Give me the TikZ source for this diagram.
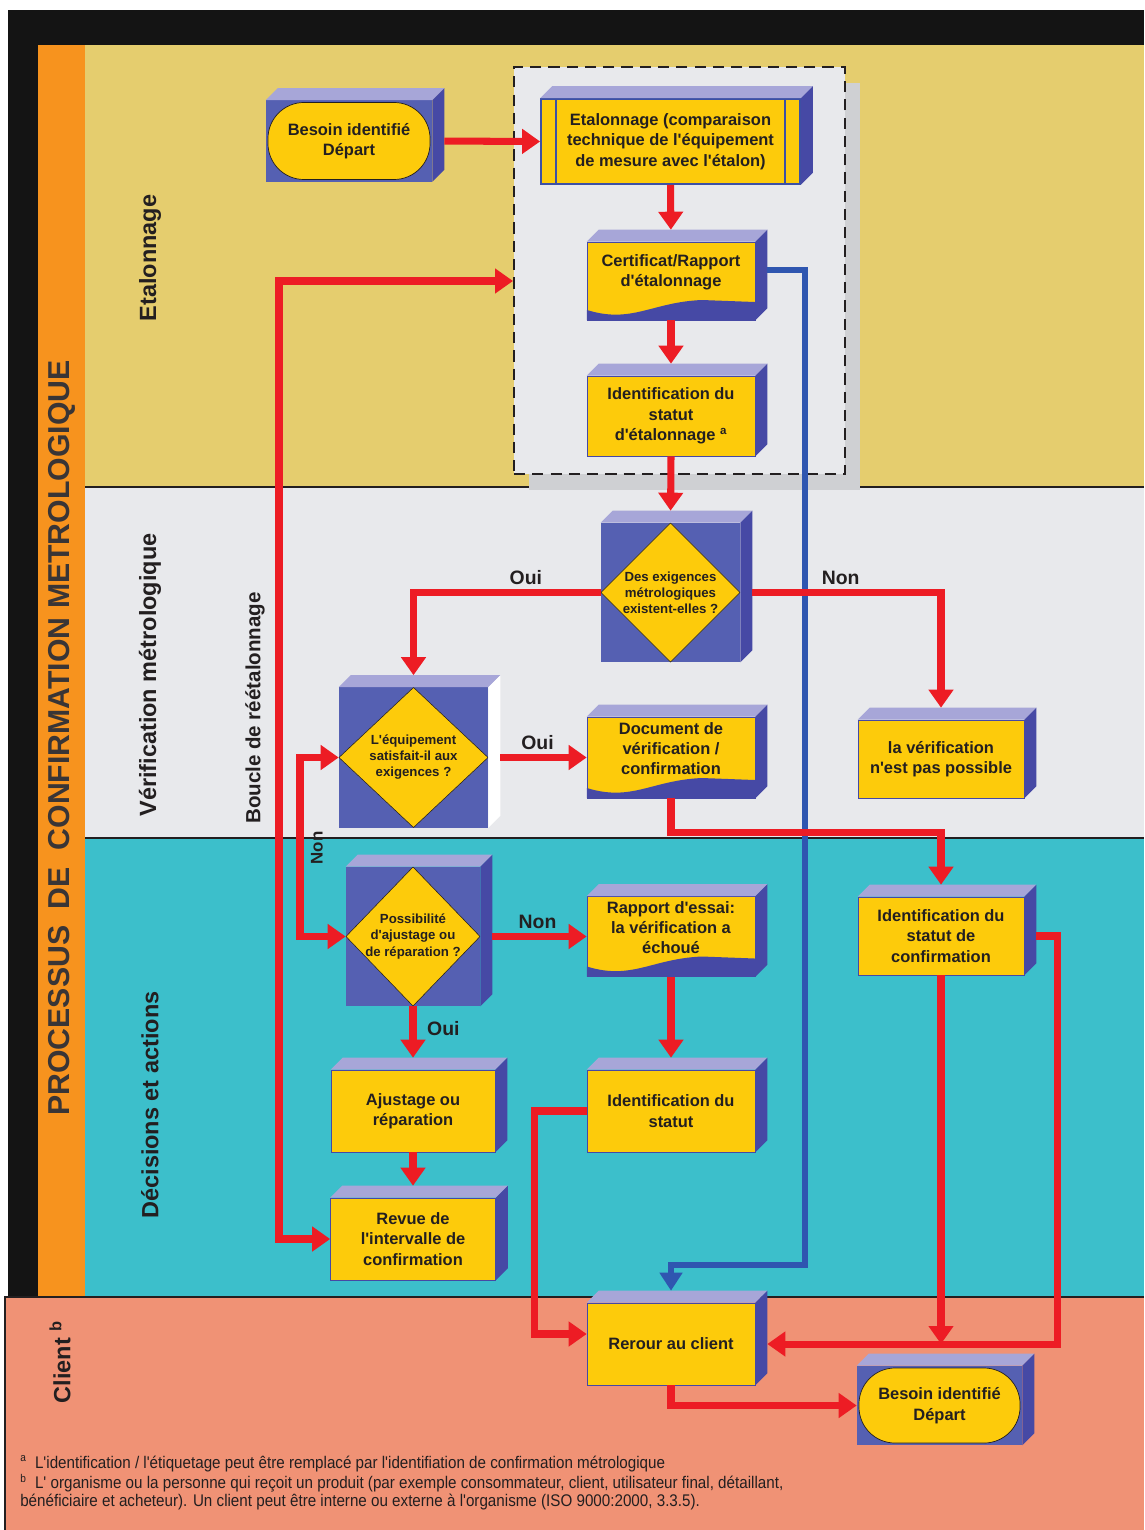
\documentclass[tikz,border=0pt]{standalone}
\usepackage{fontspec}
\setmainfont{Liberation Sans}[Ligatures=TeXOff]
\newfontfamily\narrowfont{Liberation Sans}[FakeStretch=0.9, Ligatures=TeXOff]
\usetikzlibrary{arrows.meta,calc,shadows}

\definecolor{bandetal}{RGB}{229,205,110}
\definecolor{bandverif}{RGB}{232,233,236}
\definecolor{banddec}{RGB}{60,191,203}
\definecolor{bandclient}{RGB}{240,146,117}
\definecolor{orangeband}{RGB}{247,147,30}
\definecolor{boxyellow}{RGB}{253,203,11}
\definecolor{boxtop}{RGB}{167,166,216}
\definecolor{boxside}{RGB}{70,73,165}
\definecolor{boxedge}{RGB}{60,80,165}
\definecolor{decblue}{RGB}{85,96,178}
\definecolor{flowred}{RGB}{237,28,36}
\definecolor{flowblue}{RGB}{47,86,176}
\definecolor{calshadow}{RGB}{207,208,211}
\definecolor{txt}{RGB}{35,31,32}

\newcommand\boxfont{\bfseries\fontsize{11.7}{14.5}\selectfont}
\newcommand\decfont{\bfseries\fontsize{9.4}{11.4}\selectfont}
\newcommand\lblfont{\bfseries\fontsize{13.8}{16}\selectfont}

\begin{document}
\begin{tikzpicture}
      [%%%%%%%%%%%%%%%%%%%%%%%%%%%%%%
      x=0.025cm, y=-0.025cm,
      cube/.style={rectangle, fill=boxyellow, draw=boxside, line width=0.4pt, text=txt, font=\boxfont, align=center, inner sep=0pt},
      start/.style={cube, fill=decblue, draw=none, path picture={\draw[fill=boxyellow, draw=txt, line width=0.5pt, rounded corners=0.9cm] ($(path picture bounding box.south west)+(2,-2)$) rectangle ($(path picture bounding box.north east)+(-2,2)$);}},
      process/.style={cube, draw=boxedge, line width=1.2pt, path picture={\draw[boxedge, line width=1.2pt] ($(path picture bounding box.north west)+(15,0)$) -- ($(path picture bounding box.south west)+(15,0)$) ($(path picture bounding box.north east)+(-15,0)$) -- ($(path picture bounding box.south east)+(-15,0)$);}},
      doc/.style={cube, path picture={\fill[boxside] (path picture bounding box.south west) -- ++(0,-10) .. controls +(45,14) and +(-50,2) .. ++(115,-10) -- ++(53,2) -- (path picture bounding box.south east) -- cycle;}},
      doctext/.style={text=txt, font=\boxfont, align=center, yshift=0.22cm},
      decision/.style={rectangle, fill=decblue, text=txt, font=\decfont, align=center, inner sep=0pt, path picture={\draw[fill=boxyellow, draw=txt, line width=0.4pt] (path picture bounding box.north) -- (path picture bounding box.east) -- (path picture bounding box.south) -- (path picture bounding box.west) -- cycle;}},
      calbox/.style={rectangle, fill=bandverif, draw=txt, line width=1.3pt, dash pattern=on 8pt off 5pt, minimum width=8.275cm, minimum height=10.175cm, drop shadow={shadow xshift=0.375cm, shadow yshift=-0.4cm, fill=calshadow, opacity=1}},
      lane/.style={text=txt, font=\bfseries\fontsize{16.7}{19}\selectfont, rotate=90},
      lbl/.style={text=txt, font=\lblfont},
      note/.style={text=txt, font=\narrowfont\fontsize{12}{12.5}\selectfont, align=left, inner sep=0pt},
      flow/.style={draw=flowred, line width=5pt, -{Triangle[length=0.45cm, width=0.6cm]}},
      flowboth/.style={flow, {Triangle[length=0.45cm, width=0.6cm]}-{Triangle[length=0.45cm, width=0.6cm]}},
      blueflow/.style={draw=flowblue, line width=4.3pt, -{Triangle[length=0.45cm, width=0.55cm]}},
      fromside/.style={shorten <=0.3cm},
      totop/.style={shorten >=0.3cm},
      ]%%%%%%%%%%%%%%%%%%%%%%%%%%%%%%

      \useasboundingbox (0,0) rectangle (1144,1530);
      % lanes
      \fill[white] (0,0) rectangle (1144,1530);
      \fill[black!92] (8,10) rectangle (1144,1297);
      \fill[orangeband] (38,45) rectangle (85,1297);
      \fill[bandetal] (85,45) rectangle (1144,487);
      \fill[bandverif] (85,487) rectangle (1144,838);
      \fill[banddec] (85,838) rectangle (1144,1297);
      \fill[bandclient] (5,1297) rectangle (1144,1530);
      \draw[txt, line width=0.8pt] (85,487) -- (1144,487) (85,838) -- (1144,838)
            (5,1530) -- (5,1297) -- (1144,1297);

      \node[rotate=90, text=txt!90, font=\bfseries\fontsize{21.5}{24}\selectfont] (title) at (62,738) {PROCESSUS~~DE~~CONFIRMATION METROLOGIQUE};
      \node[lane] (lEtal) at (150,258) {Etalonnage};
      \node[lane] (lVerif) at (150,675) {Vérification métrologique};
      \node[lane] (lDec) at (150,1105) {Décisions et actions};
      \node[lane] (lClient) at (60,1362) {Client \textsuperscript{b}};
      \node[lane, font=\bfseries\fontsize{14.6}{17}\selectfont] (lBoucle) at (255,708) {Boucle de réétalonnage};

      \node[calbox] (calbox) at (679.5,270.5) {};

      % boxes
      \node[start, minimum width=4.15cm, minimum height=2.025cm] (besoinA) at (349,141) {Besoin identifié\\Départ};
      \node[process, minimum width=6.475cm, minimum height=2.125cm] (etal) at (670.5,141.5) {Etalonnage (comparaison\\technique de l'équipement\\de mesure avec l'étalon)};
      \node[doc, minimum width=4.2cm, minimum height=1.95cm, label={[doctext]center:Certificat/Rapport\\d'étalonnage}] (cert) at (671,281) {};
      \node[cube, minimum width=4.2cm, minimum height=2cm] (idetal) at (671,416) {Identification du\\statut\\d'étalonnage \textsuperscript{a}};
      \node[decision, minimum width=3.475cm, minimum height=3.475cm] (dec1) at (670.5,592.5) {Des exigences\\métrologiques\\existent-elles ?};
      \node[decision, minimum width=3.725cm, minimum height=3.5cm] (dec2) at (413.5,757.5) {L'équipement\\satisfait-il aux\\exigences ?};
      \node[doc, minimum width=4.2cm, minimum height=2.025cm, label={[doctext]center:Document de\\vérification /\\confirmation}] (docverif) at (671,757.5) {};
      \node[cube, minimum width=4.15cm, minimum height=1.95cm] (nonposs) at (941,759) {la vérification\\n'est pas possible};
      \node[decision, minimum width=3.35cm, minimum height=3.475cm] (dec3) at (413,936.5) {Possibilité\\d'ajustage ou\\de réparation ?};
      \node[doc, minimum width=4.2cm, minimum height=2cm, label={[doctext]center:Rapport d'essai:\\la vérification a\\échoué}] (rapport) at (671,936.5) {};
      \node[cube, minimum width=4.15cm, minimum height=1.95cm] (idconf) at (941,936) {Identification du\\statut de\\confirmation};
      \node[cube, minimum width=4.1cm, minimum height=2.05cm] (ajust) at (413,1111) {Ajustage ou\\réparation};
      \node[cube, minimum width=4.2cm, minimum height=2.05cm] (idstat) at (671,1111) {Identification du\\statut};
      \node[cube, minimum width=4.125cm, minimum height=2.05cm] (revue) at (413,1239) {Revue de\\l'intervalle de\\confirmation};
      \node[cube, minimum width=4.2cm, minimum height=2.05cm] (retour) at (671,1344) {Rerour au client};
      \node[start, minimum width=4.125cm, minimum height=1.975cm] (besoinB) at (939.5,1405.5) {Besoin identifié\\Départ};

      % 3d faces
      \foreach \n in {besoinA,etal,cert,idetal,dec1,docverif,nonposs,dec3,rapport,idconf,ajust,idstat,revue,retour,besoinB}{
        \fill[boxtop] (\n.north west) -- ++(12,-12) -- ([shift={(12,-12)}]\n.north east) -- (\n.north east) -- cycle;
        \fill[boxside] (\n.north east) -- ++(12,-12) -- ([shift={(12,-12)}]\n.south east) -- (\n.south east) -- cycle;
      }
      \fill[boxtop] (dec2.north west) -- ++(12,-12) -- ([shift={(12,-12)}]dec2.north east) -- (dec2.north east) -- cycle;
      \fill[white] (dec2.north east) -- ++(12,-12) -- ([shift={(12,-12)}]dec2.south east) -- (dec2.south east) -- cycle;

      \coordinate (boucle) at (279,700);
      \coordinate (nonloop) at (300,850);
      \coordinate (bluebend) at (805,1265);

      % connectors
      \draw[blueflow, fromside, totop] ([yshift=0.28cm]cert.east) -| (bluebend) -| (retour.north);
      \draw[flow, fromside] (besoinA.east) -- (etal.west);
      \draw[flow, totop] (etal.south) -- (cert.north);
      \draw[flow, totop] (cert.south) -- (idetal.north);
      \draw[flow, totop] (idetal.south) -- (dec1.north);
      \draw[flow, totop] (dec1.west) -| node[lbl, pos=0.2, above] {Oui} (dec2.north);
      \draw[flow, fromside, totop] (dec1.east) -| node[lbl, pos=0.25, above] {Non} (nonposs.north);
      \draw[flow, fromside] (dec2.east) -- node[lbl, above] {Oui} (docverif.west);
      \draw[flow, totop] (docverif.south) -- ++(0,34) -| (idconf.north);
      \draw[flowboth] (revue.west) -| (boucle) |- (calbox.west |- cert.west);
      \draw[flowboth] (dec2.west) -| (nonloop) |- (dec3.west);
      \node[lbl, rotate=90, font=\bfseries\fontsize{12}{14}\selectfont] (nonlbl) at (317,848) {Non};
      \draw[flow, fromside] (dec3.east) -- node[lbl, above, xshift=0.1cm] {Non} (rapport.west);
      \draw[flow, totop] (dec3.south) -- node[lbl, right, xshift=0.15cm, pos=0.35] {Oui} (ajust.north);
      \draw[flow, totop] (ajust.south) -- (revue.north);
      \draw[flow, totop] (rapport.south) -- (idstat.north);
      \draw[flow] (idstat.west) -- ++(-52,0) |- ([yshift=0.25cm]retour.west);
      \draw[flow] (idconf.south) -- (idconf.south |- retour.east);
      \draw[flow, fromside, totop] (idconf.east) -- ++(33,0) |- (retour.east);
      \draw[flow] (retour.south) |- (besoinB.west);

      % notes
      \node[note, anchor=base west] (noteA) at (20,1468) {\textsuperscript{a}\ \ L'identification / l'étiquetage peut être remplacé par l'identifiation de confirmation métrologique};
      \node[note, anchor=base west] (noteB) at (20,1506) {\textsuperscript{b}\ \ L' organisme ou la personne qui reçoit un produit (par exemple consommateur, client, utilisateur final, détaillant,\\bénéficiaire et acheteur). Un client peut être interne ou externe à l'organisme (ISO 9000:2000, 3.3.5).};
    \end{tikzpicture}
\end{document}
